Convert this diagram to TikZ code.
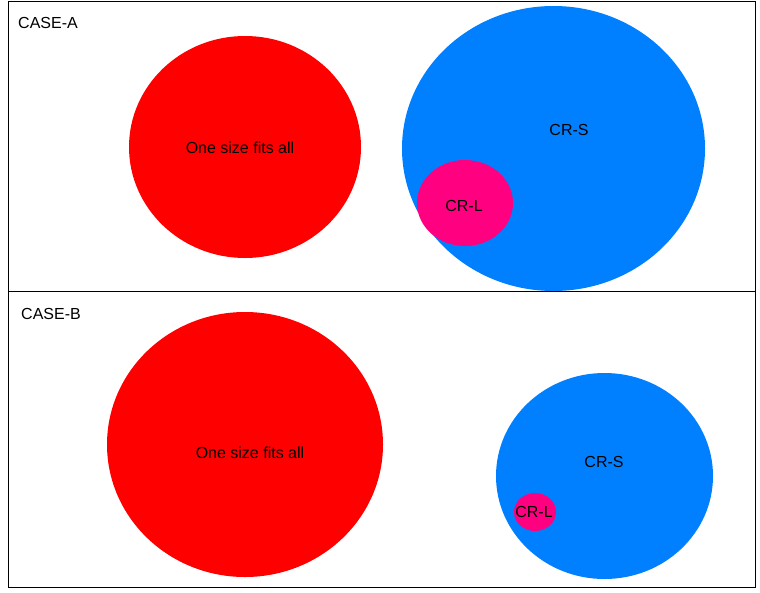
\documentclass[tikz,border=0pt]{standalone}
\usepackage{fontspec}
\setmainfont{Liberation Sans}
\definecolor{cred}{HTML}{FF0000}
\definecolor{cblue}{HTML}{0080FF}
\definecolor{cpink}{HTML}{FF0080}
\begin{document}
\begin{tikzpicture}[x=1pt,y=-1pt,
  frame/.style={draw=black,line width=1pt},
  blob/.style={fill=#1,draw=none},
  lbl/.style={font=\fontsize{16}{18}\selectfont,inner sep=0pt},
  casetitle/.style={font=\fontsize{16}{18}\selectfont,anchor=west,inner sep=0pt}]
\useasboundingbox (0,0) rectangle (760,592);
\fill[white] (0,0) rectangle (760,592);
% frames
\draw[frame] (8.5,1.5) rectangle (755,291);
\draw[frame] (8.5,291) rectangle (755,587);
% case A
\fill[blob=cred] (245,147) ellipse [x radius=116,y radius=111];
\fill[blob=cblue] (553.5,148.5) ellipse [x radius=151.5,y radius=142.5];
\fill[blob=cpink] (465,203) ellipse [x radius=48,y radius=43];
\node[lbl] (a1) at (240,148) {One size fits all};
\node[lbl] (a2) at (569,130) {CR-S};
\node[lbl] (a3) at (464,206) {CR-L};
\node[casetitle] (ca) at (18,23) {CASE-A};
% case B
\fill[blob=cred] (245,444.5) ellipse [x radius=138,y radius=132.5];
\fill[blob=cblue] (604.5,476) ellipse [x radius=108.5,y radius=103];
\fill[blob=cpink] (535,512) ellipse [x radius=21,y radius=19];
\node[lbl] (b1) at (250,453) {One size fits all};
\node[lbl] (b2) at (604,462) {CR-S};
\node[lbl] (b3) at (534,512) {CR-L};
\node[casetitle] (cb) at (21,314) {CASE-B};
\end{tikzpicture}
\end{document}
